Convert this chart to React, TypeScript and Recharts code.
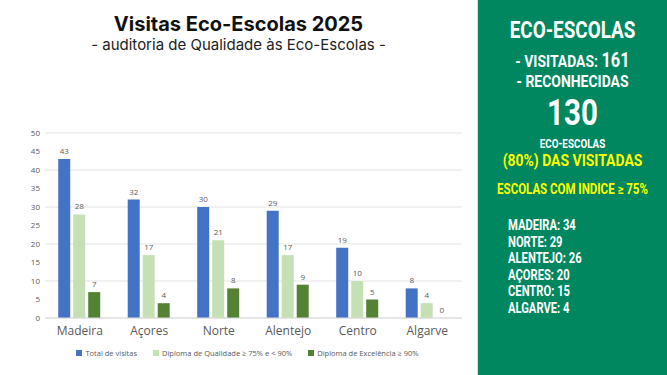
import { Bar, BarChart, CartesianGrid, LabelList, XAxis, YAxis } from "recharts";

const regions = ["Madeira", "Açores", "Norte", "Alentejo", "Centro", "Algarve"];
const totalVisitas = [43, 32, 30, 29, 19, 8];
const diplomaQualidade = [28, 17, 21, 17, 10, 4];
const diplomaExcelencia = [7, 4, 8, 9, 5, 0];
const yTicks = [0, 5, 10, 15, 20, 25, 30, 35, 40, 45, 50];

const indiceRegions = ["MADEIRA", "NORTE", "ALENTEJO", "AÇORES", "CENTRO", "ALGARVE"];
const indiceValues = [34, 29, 26, 20, 15, 4];

const series = [
  { key: "total", name: "Total de visitas", color: "#4472C4" },
  { key: "qualidade", name: "Diploma de Qualidade ≥ 75% e < 90%", color: "#C5E0B4" },
  { key: "excelencia", name: "Diploma de Excelência ≥ 90%", color: "#548235" },
];

const data = regions.map((name, i) => ({
  name,
  total: totalVisitas[i],
  qualidade: diplomaQualidade[i],
  excelencia: diplomaExcelencia[i],
}));

const sans = "'Open Sans', sans-serif";

// condensed look for the side panel (no narrow font installed)
function Cond({ top, size, color = "#fff", children }: { top: number; size: number; color?: string; children: React.ReactNode }) {
  return (
    <div style={{ position: "absolute", top, width: "100%", fontSize: size, color, whiteSpace: "nowrap", transform: "scaleX(0.82)", transformOrigin: "center" }}>
      {children}
    </div>
  );
}

export default function App() {
  return (
    <div style={{ position: "absolute", left: 0, top: 0, width: 667, height: 375, background: "#fff", overflow: "hidden" }}>
      <div style={{ position: "absolute", left: 0, top: 12, width: 477, textAlign: "center", fontFamily: "Inter, sans-serif", fontWeight: 700, fontSize: 20, color: "#111" }}>
        Visitas Eco-Escolas 2025
      </div>
      <div style={{ position: "absolute", left: 0, top: 35, width: 477, textAlign: "center", fontFamily: "Inter, sans-serif", fontSize: 15, color: "#222" }}>
        - auditoria de Qualidade às Eco-Escolas -
      </div>

      <div style={{ position: "absolute", left: 0, top: 0 }}>
        <BarChart
          width={477}
          height={375}
          data={data}
          margin={{ top: 133, right: 15, bottom: 27, left: 0 }}
          barCategoryGap="19%"
          barGap={3}
        >
          <CartesianGrid vertical={false} stroke="#E3E3E3" />
          <YAxis
            width={45}
            domain={[0, 50]}
            ticks={yTicks}
            axisLine={false}
            tickLine={false}
            tickSize={0}
            tickMargin={5}
            tick={{ fontSize: 8, fill: "#595959", fontFamily: sans }}
          />
          <XAxis
            dataKey="name"
            height={30}
            axisLine={{ stroke: "#D9D9D9" }}
            tickLine={false}
            tickSize={0}
            tickMargin={8}
            tick={{ fontSize: 12, fill: "#595959", fontFamily: sans }}
          />
          {series.map((s) => (
            <Bar
              key={s.key}
              dataKey={s.key}
              name={s.name}
              fill={s.color}
              minPointSize={(v: number) => (v === 0 ? 0.01 : 0)}
              isAnimationActive={false}
            >
              <LabelList dataKey={s.key} position="top" offset={5} style={{ fontSize: 8, fill: "#595959", fontFamily: sans }} />
            </Bar>
          ))}
        </BarChart>
      </div>

      <div style={{ position: "absolute", left: 0, top: 348, width: 477, paddingLeft: 18, boxSizing: "border-box", display: "flex", justifyContent: "center", gap: 16, fontSize: 7.5, color: "#595959", fontFamily: sans }}>
        {series.map((s) => (
          <div key={s.key} style={{ display: "flex", alignItems: "center", gap: 3 }}>
            <span style={{ width: 6, height: 6, background: s.color, display: "inline-block" }} />
            <span>{s.name}</span>
          </div>
        ))}
      </div>

      <div style={{ position: "absolute", left: 477, top: 0, width: 190, height: 375, background: "#008760", borderLeft: "1px solid #cfe5dc", boxSizing: "border-box", fontFamily: "Roboto, sans-serif", fontWeight: 700, color: "#fff", textAlign: "center" }}>
        <Cond top={17} size={23}>ECO-ESCOLAS</Cond>
        <Cond top={48} size={17}>
          - VISITADAS: <span style={{ fontSize: 20 }}>161</span>
        </Cond>
        <Cond top={71} size={17}>- RECONHECIDAS</Cond>
        <Cond top={92} size={36}>130</Cond>
        <Cond top={137} size={12}>ECO-ESCOLAS</Cond>
        <Cond top={150} size={17} color="#FFFF00">(80%) DAS VISITADAS</Cond>
        <Cond top={181} size={14} color="#FFFF00">ESCOLAS COM INDICE ≥ 75%</Cond>
        <div style={{ position: "absolute", top: 217, left: 30, textAlign: "left", fontSize: 14, lineHeight: "16.6px", whiteSpace: "nowrap", transform: "scaleX(0.8)", transformOrigin: "left" }}>
          {indiceRegions.map((r, i) => (
            <div key={r}>
              {r}: {indiceValues[i]}
            </div>
          ))}
        </div>
      </div>
    </div>
  );
}
